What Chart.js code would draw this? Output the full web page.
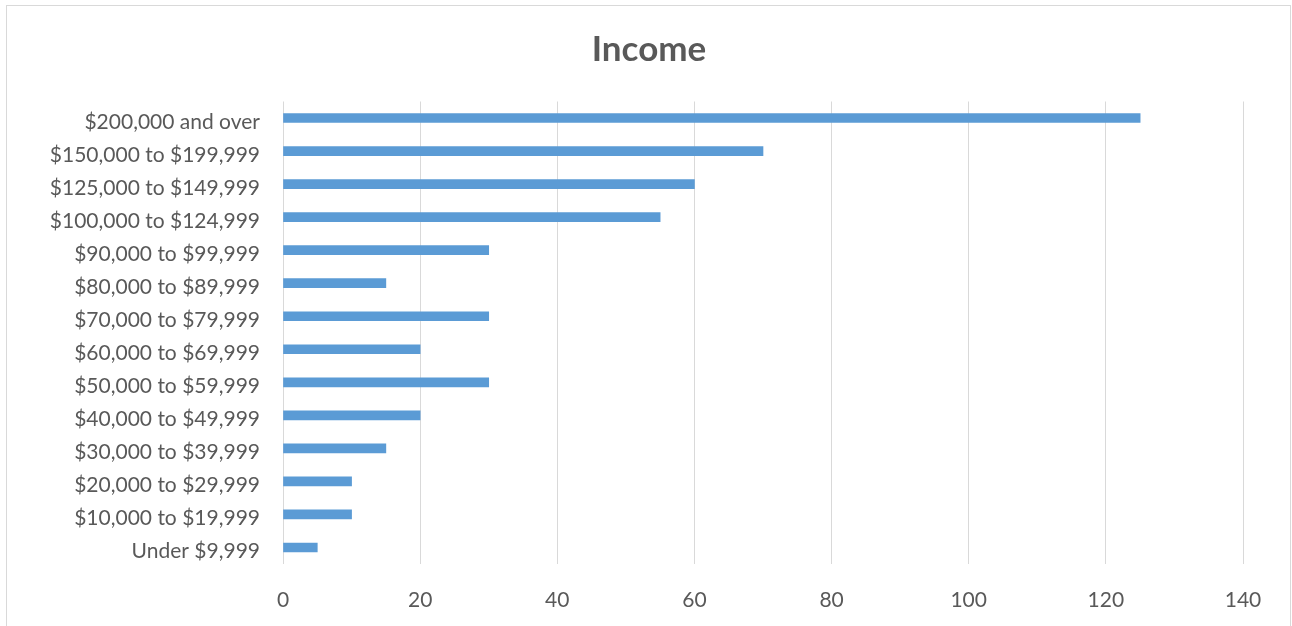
<!DOCTYPE html>
<html><head><meta charset="utf-8">
<script src="https://cdn.jsdelivr.net/npm/chart.js@4/dist/chart.umd.min.js"></script>
<style>
html,body{margin:0;padding:0;background:#fff;}
#wrap{position:relative;width:1292px;height:626px;overflow:hidden;}
#frame{position:absolute;left:6px;top:5px;width:1283px;height:660px;border:1.5px solid #d9d9d9;pointer-events:none;}
canvas{position:absolute;left:0;top:0;}
</style></head>
<body><div id="wrap"><canvas id="c" width="1292" height="626"></canvas><div id="frame"></div></div>
<script>
const categories = ["$200,000 and over","$150,000 to $199,999","$125,000 to $149,999","$100,000 to $124,999","$90,000 to $99,999","$80,000 to $89,999","$70,000 to $79,999","$60,000 to $69,999","$50,000 to $59,999","$40,000 to $49,999","$30,000 to $39,999","$20,000 to $29,999","$10,000 to $19,999","Under $9,999"];
const values = [125,70,60,55,30,15,30,20,30,20,15,10,10,5];
const chartTitle = "Income";
const xMin = 0, xMax = 140, xStep = 20;

const FONT = "Lato, 'Open Sans', sans-serif";
new Chart(document.getElementById('c'), {
  type: 'bar',
  data: { labels: categories, datasets: [{ data: values, backgroundColor: '#5B9BD5', borderWidth: 0, barThickness: 9 }] },
  options: {
    indexAxis: 'y', responsive: false, animation: false,
    layout: { padding: { left: 6, right: 0, top: 0, bottom: 0 } },
    plugins: {
      legend: { display: false }, tooltip: { enabled: false },
      title: { display: true, text: chartTitle, color: '#595959', font: { family: FONT, size: 35, weight: 'bold' }, padding: { top: 29, bottom: 30.5 } }
    },
    scales: {
      x: {
        min: xMin, max: xMax,
        ticks: { stepSize: xStep, color: '#595959', font: { family: FONT, size: 21 }, padding: 24 },
        grid: { color: '#d9d9d9', drawTicks: false, lineWidth: 1 },
        border: { display: false },
        afterFit: s => { s.height = 62; s.paddingRight = 49; }
      },
      y: {
        ticks: { color: '#595959', font: { family: FONT, size: 21 }, padding: 23, labelOffset: 4, autoSkip: false },
        grid: { display: false, drawTicks: false },
        border: { display: false },
        afterFit: s => { s.width = 277; }
      }
    }
  }
});
</script></body></html>
